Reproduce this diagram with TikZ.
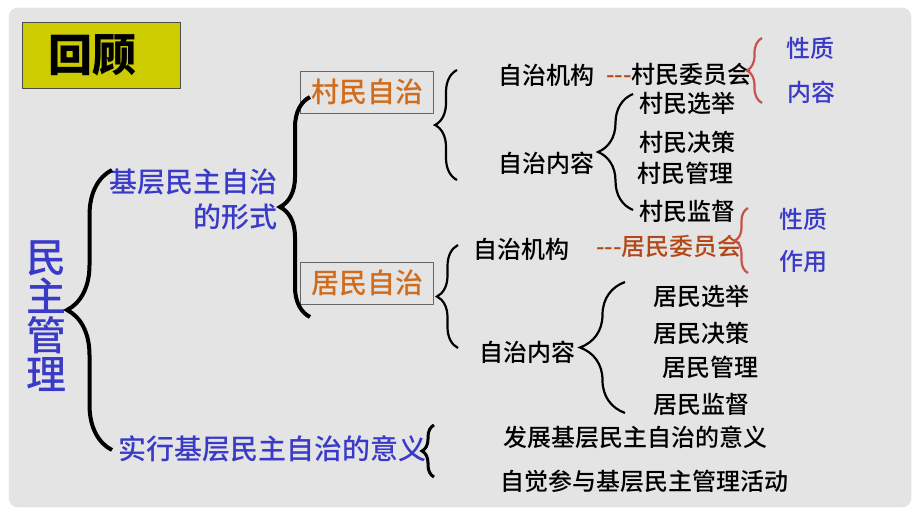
\documentclass[tikz,border=0pt]{standalone}
\usepackage{fontspec}
\setmainfont{Noto Sans CJK SC}
\newfontfamily\medfont{Noto Sans CJK SC Medium}
\usepackage{tikz}
\usetikzlibrary{decorations.pathreplacing}
\definecolor{panelgray}{RGB}{228,228,228}
\definecolor{titleyellow}{RGB}{204,204,0}
\definecolor{formblue}{RGB}{58,58,200}
\definecolor{selforange}{RGB}{208,108,28}
\definecolor{cmtbrown}{RGB}{178,72,24}
\definecolor{bracered}{RGB}{196,84,76}

\begin{document}
\begin{tikzpicture}[x=1pt, y=-1pt,
    txt/.style={inner sep=0pt, font=\medfont\fontsize{24}{24}\selectfont},
    bluetxt/.style={txt, text=formblue},
    headtxt/.style={inner sep=0pt, text=formblue, font=\medfont\fontsize{28}{28}\selectfont},
    selfbox/.style={draw=gray!80!black, inner sep=0pt, minimum width=133pt, minimum height=42pt,
        text=selforange, font=\medfont\fontsize{28}{28}\selectfont},
    brc/.style={decorate, decoration={brace, amplitude=#1}, line width=2.2pt}]

    \useasboundingbox (0, 0) rectangle (920, 518);
    \fill[white] (0, 0) rectangle (920, 518);

    % panel
    \draw[fill=panelgray, draw=white!88!black, rounded corners=9pt] (9, 8) rectangle (911, 507);

    % title
    \draw[fill=titleyellow, draw=black!70] (22, 22) rectangle (180, 88);
    \node[inner sep=0pt, font=\fontsize{44}{44}\selectfont\bfseries] (title) at (92, 55) {回顾};

    % main topic
    \node[inner sep=0pt, text=formblue, align=center, font=\medfont\fontsize{40}{39}\selectfont] (mgmt) at (47, 316) {民\\主\\管\\理};

    % forms
    \node[headtxt] (form1) at (193, 182) {基层民主自治};
    \node[headtxt, anchor=east] (form2) at (278, 217) {的形式};
    \node[headtxt] (meaning) at (272, 449) {实行基层民主自治的意义};

    % village / resident boxes
    \node[selfbox, fill=panelgray] (village) at (367, 92) {村民自治};
    \node[selfbox, fill=panelgray] (resident) at (367, 283) {居民自治};

    % village side
    \node[txt] (vorg) at (546, 75) {自治机构};
    \node[txt, anchor=west] (vcomm) at (606, 74) {\textcolor{cmtbrown}{-{}-{}-}村民委员会};
    \node[txt] (vcont) at (546, 163) {自治内容};
    \node[txt] (v1) at (687, 103) {村民选举};
    \node[txt] (v2) at (687, 142) {村民决策};
    \node[txt] (v3) at (685, 173) {村民管理};
    \node[txt] (v4) at (687, 211) {村民监督};
    \node[bluetxt] (vq1) at (810, 48) {性质};
    \node[bluetxt] (vq2) at (811, 92) {内容};

    % resident side
    \node[txt] (rorg) at (521, 249) {自治机构};
    \node[txt, anchor=west, text=cmtbrown] (rcomm) at (596, 246) {-{}-{}-居民委员会};
    \node[txt] (rcont) at (527, 352) {自治内容};
    \node[txt] (r1) at (701, 296) {居民选举};
    \node[txt] (r2) at (701, 333) {居民决策};
    \node[txt] (r3) at (710, 367) {居民管理};
    \node[txt] (r4) at (701, 404) {居民监督};
    \node[bluetxt] (rq1) at (803, 219) {性质};
    \node[bluetxt] (rq2) at (803, 262) {作用};

    % meaning
    \node[txt] (mean1) at (635, 437) {发展基层民主自治的意义};
    \node[txt] (mean2) at (644, 481) {自觉参与基层民主管理活动};

    % brace ends
    \coordinate (mgtop) at (112, 170);
    \coordinate (mgbot) at (112, 450);
    \coordinate (fmtop) at (310, 97);
    \coordinate (fmbot) at (310, 317);
    \coordinate (vltop) at (457, 70);
    \coordinate (vlbot) at (457, 180);
    \coordinate (rstop) at (458, 245);
    \coordinate (rsbot) at (458, 348);
    \coordinate (vctop) at (633, 94);
    \coordinate (vcbot) at (633, 210);
    \coordinate (rctop) at (625, 282);
    \coordinate (rcbot) at (625, 413);
    \coordinate (vqtop) at (762, 38);
    \coordinate (vqbot) at (762, 103);
    \coordinate (rqtop) at (748, 208);
    \coordinate (rqbot) at (748, 273);
    \coordinate (mntop) at (434, 425);
    \coordinate (mnbot) at (434, 477);

    % braces
    \draw[brc=45, line width=4pt] (mgbot) -- (mgtop);
    \draw[brc=30, line width=4pt] (fmbot) -- (fmtop);
    \draw[brc=22] (vlbot) -- (vltop);
    \draw[brc=21] (rsbot) -- (rstop);
    \draw[brc=35] (vcbot) -- (vctop);
    \draw[brc=45] (rcbot) -- (rctop);
    \draw[brc=15, draw=bracered] (vqbot) -- (vqtop);
    \draw[brc=13, draw=bracered] (rqbot) -- (rqtop);
    \draw[brc=12, line width=3pt] (mnbot) -- (mntop);
\end{tikzpicture}
\end{document}
